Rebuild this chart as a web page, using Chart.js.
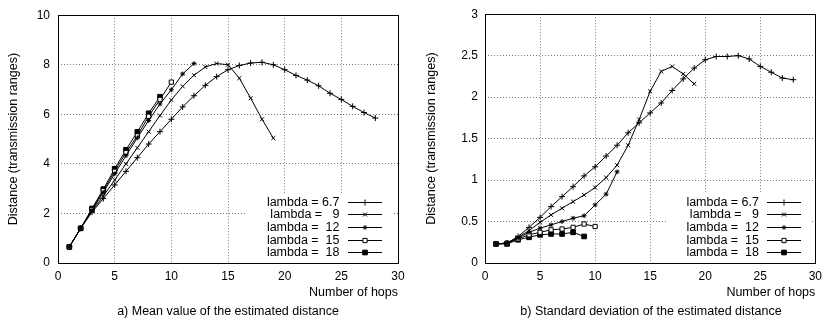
<!DOCTYPE html>
<html>
<head>
<meta charset="utf-8">
<script src="https://cdn.jsdelivr.net/npm/chart.js@4/dist/chart.umd.min.js"></script>
<style>
  body { margin: 0; background: #fff; }
  #wrap { position: relative; width: 828px; height: 322px; }
  canvas { position: absolute; top: 0; }
  #c1 { left: 0; }
  #c2 { left: 414px; }
  .cap { position: absolute; top: 304px; font: 12.5px 'Liberation Sans', Arial, sans-serif; color: #000; white-space: nowrap; transform: translateX(-50%); }
</style>
</head>
<body>
<div id="wrap">
  <canvas id="c1" width="414" height="322"></canvas>
  <canvas id="c2" width="414" height="322"></canvas>
  <div class="cap" style="left:228px">a) Mean value of the estimated distance</div>
  <div class="cap" style="left:651px">b) Standard deviation of the estimated distance</div>
</div>
<script>
const hops = [1, 2, 3, 4, 5, 6, 7, 8, 9, 10, 11, 12, 13, 14, 15, 16, 17, 18, 19, 20, 21, 22, 23, 24, 25, 26, 27, 28]
const seriesLabels = ['lambda = 6.7', 'lambda =   9', 'lambda =  12', 'lambda =  15', 'lambda =  18']

// a) mean value
const mean67 = [0.65, 1.4, 2.05, 2.6, 3.15, 3.7, 4.25, 4.8, 5.3, 5.8, 6.3, 6.75, 7.17, 7.52, 7.8, 7.97, 8.07, 8.1, 8.0, 7.8, 7.57, 7.38, 7.15, 6.85, 6.6, 6.32, 6.07, 5.85]
const mean9 = [0.65, 1.4, 2.1, 2.7, 3.35, 4.0, 4.65, 5.3, 5.95, 6.58, 7.13, 7.58, 7.91, 8.05, 8.0, 7.46, 6.65, 5.8, 5.04]
const mean12 = [0.65, 1.4, 2.12, 2.85, 3.6, 4.33, 5.05, 5.75, 6.42, 6.99, 7.63, 8.05]
const mean15 = [0.65, 1.4, 2.15, 2.92, 3.7, 4.46, 5.13, 5.92, 6.6, 7.3]
const mean18 = [0.65, 1.4, 2.2, 2.98, 3.8, 4.57, 5.29, 6.04, 6.71]

// b) standard deviation
const std67 = [0.23, 0.24, 0.32, 0.43, 0.55, 0.68, 0.8, 0.92, 1.05, 1.16, 1.29, 1.42, 1.57, 1.69, 1.81, 1.93, 2.08, 2.22, 2.35, 2.45, 2.49, 2.49, 2.5, 2.46, 2.37, 2.3, 2.23, 2.21]
const std9 = [0.23, 0.24, 0.31, 0.39, 0.49, 0.58, 0.66, 0.74, 0.82, 0.91, 1.03, 1.18, 1.42, 1.73, 2.07, 2.31, 2.37, 2.28, 2.16]
const std12 = [0.23, 0.24, 0.3, 0.37, 0.42, 0.46, 0.5, 0.54, 0.57, 0.7, 0.83, 1.1]
const std15 = [0.23, 0.24, 0.29, 0.34, 0.37, 0.4, 0.41, 0.43, 0.47, 0.44]
const std18 = [0.23, 0.23, 0.28, 0.31, 0.34, 0.35, 0.35, 0.37, 0.32]

const meanTicks = { min: 0, max: 10, step: 2 }
const stdTicks = { min: 0, max: 3, step: 0.5 }

const FONT = 'Liberation Sans'
const markers = [
  { style: 'cross', r: 3, fill: '#000' },
  { style: 'crossRot', r: 2.8, fill: '#000' },
  { style: 'star', r: 2.4, fill: '#000' },
  { style: 'rect', r: 3, fill: '#fff' },
  { style: 'rect', r: 3.3, fill: '#000' }
]

const toPoints = (vals) => vals.map((v, i) => ({ x: hops[i], y: v }))

const makeDatasets = (list) => list.map((vals, i) => ({
  label: seriesLabels[i],
  data: toPoints(vals),
  borderColor: '#000',
  borderWidth: 1,
  pointStyle: markers[i].style,
  pointRadius: markers[i].r,
  pointBorderWidth: 1,
  pointBorderColor: '#000',
  pointBackgroundColor: markers[i].fill,
  tension: 0
}))

// gnuplot style key + frame
const keyPlugin = {
  id: 'gpkey',
  beforeDatasetsDraw (chart, args, opts) {
    const ctx = chart.ctx
    ctx.save()
    ctx.fillStyle = '#fff'
    ctx.fillRect(opts.box[0], opts.box[1], opts.box[2] - opts.box[0], opts.box[3] - opts.box[1])
    ctx.restore()
  },
  afterDatasetsDraw (chart, args, opts) {
    const ctx = chart.ctx
    const rows = [201.7, 214.4, 227, 239.7, 252.4]
    ctx.save()
    ctx.font = '12.5px ' + FONT
    ctx.textAlign = 'right'
    ctx.textBaseline = 'middle'
    chart.data.datasets.forEach((ds, i) => {
      const y = rows[i]
      ctx.fillStyle = '#000'
      ctx.fillText(ds.label, opts.textRight, y + 0.5)
      ctx.strokeStyle = '#000'
      ctx.lineWidth = 1
      ctx.beginPath()
      ctx.moveTo(opts.line[0], Math.round(y) + 0.5)
      ctx.lineTo(opts.line[1], Math.round(y) + 0.5)
      ctx.stroke()
      ctx.fillStyle = markers[i].fill
      Chart.helpers.drawPoint(ctx, { pointStyle: markers[i].style, radius: markers[i].r, rotation: 0, borderWidth: 1 },
        (opts.line[0] + opts.line[1]) / 2, Math.round(y) + 0.5)
    })
    // frame
    const a = chart.chartArea
    ctx.strokeStyle = '#000'
    ctx.lineWidth = 1
    ctx.strokeRect(Math.round(a.left) + 0.5, Math.round(a.top) + 0.5,
      Math.round(a.right - a.left), Math.round(a.bottom - a.top))
    ctx.restore()
  }
}

const makeChart = (id, list, tk, yWidth, yPad, yTitlePad, rightPad, key) => new Chart(document.getElementById(id), {
  type: 'line',
  data: { datasets: makeDatasets(list) },
  plugins: [keyPlugin],
  options: {
    responsive: false,
    animation: false,
    devicePixelRatio: 1,
    layout: { padding: { top: 10, right: rightPad, left: 0, bottom: 0 } },
    plugins: {
      legend: { display: false },
      tooltip: { enabled: false },
      gpkey: key
    },
    scales: {
      x: {
        type: 'linear',
        min: 0,
        max: 30,
        afterFit: (s) => { s.height = 59 },
        ticks: { stepSize: 5, color: '#000', padding: 6, font: { family: FONT, size: 12 } },
        grid: { color: '#7a7a7a', drawTicks: false },
        border: { display: false, dash: [1, 2] },
        title: {
          display: true,
          text: 'Number of hops',
          align: 'end',
          color: '#000',
          font: { family: FONT, size: 12.5 },
          padding: { top: 0, bottom: 21.5 }
        }
      },
      y: {
        min: tk.min,
        max: tk.max,
        afterFit: (s) => { s.width = yWidth },
        ticks: {
          stepSize: tk.step,
          color: '#000',
          padding: yPad,
          font: { family: FONT, size: 12 },
          callback: (v) => String(Math.round(v * 100) / 100)
        },
        grid: { color: '#7a7a7a', drawTicks: false },
        border: { display: false, dash: [1, 2] },
        title: {
          display: true,
          text: 'Distance (transmission ranges)',
          color: '#000',
          font: { family: FONT, size: 12.5 },
          padding: { top: yTitlePad, bottom: 0 }
        }
      }
    }
  }
})

makeChart('c1', [mean67, mean9, mean12, mean15, mean18], meanTicks, 58, 8, 6, 16,
  { box: [247, 195, 394, 263], textRight: 339.5, line: [348, 382] })
makeChart('c2', [std67, std9, std12, std15, std18], stdTicks, 71, 7, 10, 11,
  { box: [253, 194, 398, 263], textRight: 345, line: [353, 387] })
</script>
</body>
</html>
